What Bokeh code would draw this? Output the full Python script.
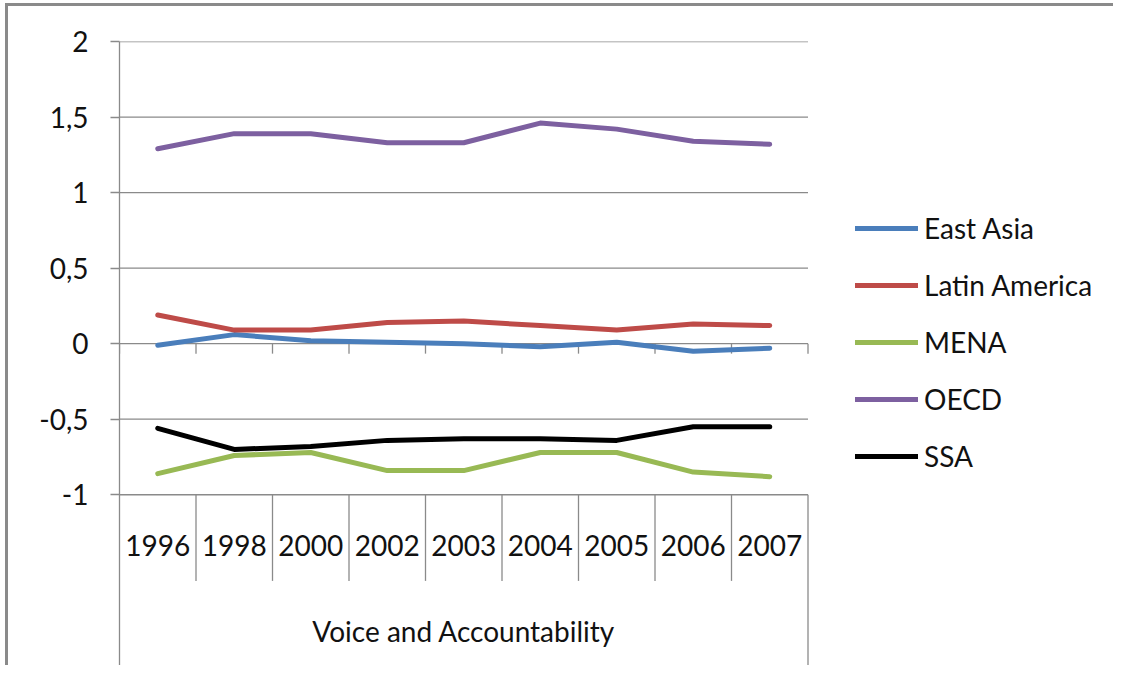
import numpy as np
from bokeh.plotting import figure
from bokeh.models import FixedTicker, Legend, LegendItem, Range1d
from bokeh.core.properties import value
from bokeh.embed import file_html
from bokeh.resources import INLINE

years = ["1996", "1998", "2000", "2002", "2003", "2004", "2005", "2006", "2007"]
group_label = "Voice and Accountability"

east_asia = [-0.01, 0.06, 0.02, 0.01, 0.00, -0.02, 0.01, -0.05, -0.03]
latin_america = [0.19, 0.09, 0.09, 0.14, 0.15, 0.12, 0.09, 0.13, 0.12]
mena = [-0.86, -0.74, -0.72, -0.84, -0.84, -0.72, -0.72, -0.85, -0.88]
oecd = [1.29, 1.39, 1.39, 1.33, 1.33, 1.46, 1.42, 1.34, 1.32]
ssa = [-0.56, -0.70, -0.68, -0.64, -0.63, -0.63, -0.64, -0.55, -0.55]

series = [
    ("East Asia", east_asia, "#4A7EBB"),
    ("Latin America", latin_america, "#BE4B48"),
    ("MENA", mena, "#98B954"),
    ("OECD", oecd, "#7D60A0"),
    ("SSA", ssa, "#000000"),
]

y_ticks = [-1, -0.5, 0, 0.5, 1, 1.5, 2]

FONT = "Lato"
FONT_SIZE = "28px"
GRID = "#8a8a8a"
CAT_PX = 76.5  # width of one category cell

# the frame runs on below -1 and right of the last year, so the category
# table and the legend can sit inside it
Y_MIN = -2.13
YEAR_ROW_BOTTOM = -1.57
YEAR_Y = -1.335
GROUP_Y = -1.90

W, H = 1108, 662
LEFT, TOP = 111, 35

x = np.arange(len(years))
x_end = -0.5 + (W - LEFT) / CAT_PX

p = figure(
    width=W,
    height=H,
    x_range=Range1d(-0.5, x_end),
    y_range=Range1d(Y_MIN, 2),
    x_axis_location=None,
    min_border_left=LEFT,
    min_border_top=TOP,
    min_border_bottom=3,
    min_border_right=0,
    toolbar_location=None,
    tools="",
    output_backend="svg",
)
p.styles = {
    "border-top": "3px solid #8a8a8a",
    "border-left": "3px solid #8a8a8a",
    "margin-left": "5px",
    "margin-top": "3px",
}
p.outline_line_color = None
p.xgrid.visible = False
p.ygrid.visible = False

bounds = np.arange(len(years) + 1) - 0.5

ticker = FixedTicker(ticks=y_ticks)
p.yaxis.ticker = ticker
p.yaxis.major_label_overrides = {t: f"{t:g}".replace(".", ",") for t in y_ticks}
p.yaxis.axis_line_color = GRID
p.yaxis.axis_line_width = 1.3
p.yaxis.major_tick_line_color = GRID
p.yaxis.major_tick_line_width = 1.3
p.yaxis.major_tick_out = 9
p.yaxis.major_tick_in = 0
p.yaxis.minor_tick_line_color = None
p.yaxis.major_label_standoff = 22
p.yaxis.major_label_text_font = FONT
p.yaxis.major_label_text_font_size = FONT_SIZE
p.yaxis.major_label_text_color = "#111111"

# horizontal gridlines only across the category cells
p.segment(x0=bounds[0], y0=y_ticks, x1=bounds[-1], y1=y_ticks, line_color=GRID, line_width=1.3)

# category table under the plot
inner = bounds[1:-1]
p.segment(x0=inner, y0=-1, x1=inner, y1=YEAR_ROW_BOTTOM, line_color=GRID, line_width=1.3)
p.segment(x0=bounds[-1], y0=-1, x1=bounds[-1], y1=Y_MIN, line_color=GRID, line_width=1.3)
# tick marks on the zero line
p.segment(x0=bounds, y0=0, x1=bounds, y1=-0.066, line_color=GRID, line_width=1.3)

p.text(
    x=x, y=YEAR_Y, text=years,
    text_font=value(FONT), text_font_size=value(FONT_SIZE), text_color="#111111",
    text_align="center", text_baseline="middle",
)
p.text(
    x=[(len(years) - 1) / 2], y=[GROUP_Y], text=[group_label],
    text_font=value(FONT), text_font_size=value(FONT_SIZE), text_color="#111111",
    text_align="center", text_baseline="middle",
)

items = []
for name, vals, colour in series:
    r = p.line(x=x, y=vals, line_color=colour, line_width=5, line_cap="round", line_join="round")
    items.append(LegendItem(label=name, renderers=[r]))

legend = Legend(
    items=items,
    location=(736, 192),
    glyph_width=63,
    glyph_height=34,
    label_height=34,
    label_standoff=6,
    spacing=23,
    padding=0,
    margin=0,
    border_line_color=None,
    background_fill_alpha=0,
    label_text_font=FONT,
    label_text_font_size=FONT_SIZE,
    label_text_color="#111111",
)
p.add_layout(legend)

open("out.html", "w").write(file_html(p, INLINE))
